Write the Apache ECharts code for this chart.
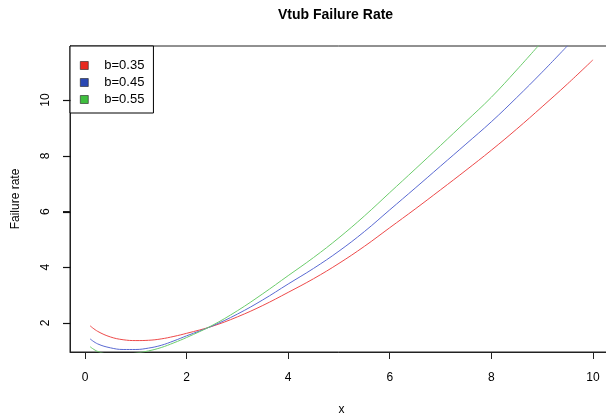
<!DOCTYPE html>
<html>
<head>
<meta charset="utf-8">
<script src="https://cdn.jsdelivr.net/npm/echarts@6/dist/echarts.min.js"></script>
<style>html,body{margin:0;padding:0;background:#fff;}#c{width:606px;height:417px;}</style>
</head>
<body>
<div id="c"></div>
<script>
// Data
const xs     = [0.1, 0.25, 0.5, 0.75, 1.0, 1.25, 1.5, 1.75, 2.0, 2.5, 3.0, 3.5, 4.0, 4.5, 5.0, 5.5, 6.0, 6.5, 7.0, 7.5, 8.0, 8.5, 9.0, 9.5, 10.0];
const b035   = [1.90, 1.70, 1.50, 1.40, 1.37, 1.38, 1.43, 1.52, 1.63, 1.88, 2.22, 2.63, 3.10, 3.59, 4.14, 4.75, 5.42, 6.09, 6.78, 7.48, 8.20, 8.96, 9.76, 10.58, 11.44];
const b045   = [1.43, 1.25, 1.11, 1.05, 1.05, 1.10, 1.20, 1.36, 1.54, 1.89, 2.32, 2.83, 3.40, 3.96, 4.58, 5.28, 6.06, 6.84, 7.63, 8.42, 9.22, 10.09, 11.00, 11.95, null];
const b055   = [1.15, 0.98, 0.88, 0.87, 0.92, 1.00, 1.12, 1.29, 1.48, 1.91, 2.44, 3.05, 3.70, 4.35, 5.06, 5.84, 6.68, 7.52, 8.37, 9.23, 10.10, 11.08, 12.10, null, null];
const seriesNames = ['b=0.35', 'b=0.45', 'b=0.55'];
const xTicks = [0, 2, 4, 6, 8, 10];
const yTicks = [2, 4, 6, 8, 10];

const pairs = ys => xs.map((x, i) => [x, ys[i]]);
const lineColors = ['#ee4a4a', '#5a6ad2', '#6ccc6c'];
const keyColors = ['#e82a20', '#2a48b4', '#3fbf3f'];
const font = 'Liberation Sans, Arial, sans-serif';
const X_MIN = -0.296, X_MAX = 10.396, Y_MIN = 0.96, Y_MAX = 11.94;

const chart = echarts.init(document.getElementById('c'), null, {renderer: 'canvas'});
chart.setOption({
  animation: false,
  backgroundColor: '#fff',
  title: {
    text: 'Vtub Failure Rate',
    left: 273, top: 3,
    textStyle: {fontFamily: font, fontSize: 14, fontWeight: 'bold', color: '#000'}
  },
  legend: {
    orient: 'vertical',
    left: 70, top: 46,
    padding: [13, 9, 7, 10],
    itemWidth: 8, itemHeight: 8, itemGap: 4,
    icon: 'rect',
    backgroundColor: '#fff',
    borderColor: '#000', borderWidth: 1,
    textStyle: {fontFamily: font, fontSize: 13, color: '#000', lineHeight: 13, padding: [0, 0, 0, 11]},
    data: seriesNames.map((n, i) => ({name: n, itemStyle: {color: keyColors[i], borderColor: '#222', borderWidth: 0.6}})),
    z: 10
  },
  grid: {
    show: true, left: 70, top: 46, width: 543, height: 306,
    borderColor: '#222', borderWidth: 1,
    outerBoundsMode: 'none'
  },
  xAxis: {
    type: 'value', min: X_MIN, max: X_MAX,
    name: 'x', nameLocation: 'middle', nameGap: 52,
    nameTextStyle: {fontFamily: font, fontSize: 12, color: '#000'},
    axisLine: {show: true, onZero: false, lineStyle: {color: '#222', width: 1}},
    splitLine: {show: false},
    axisTick: {show: true, length: 7, customValues: xTicks, lineStyle: {color: '#222', width: 1}},
    axisLabel: {customValues: xTicks, margin: 20, fontFamily: font, fontSize: 12, color: '#000'}
  },
  yAxis: {
    type: 'value', min: Y_MIN, max: Y_MAX, position: 'left',
    name: 'Failure rate', nameLocation: 'middle', nameGap: 48,
    nameTextStyle: {fontFamily: font, fontSize: 12, color: '#000'},
    axisLine: {show: true, onZero: false, lineStyle: {color: '#222', width: 1}},
    splitLine: {show: false},
    axisTick: {show: true, length: 7, customValues: yTicks, lineStyle: {color: '#222', width: 1}},
    axisLabel: {customValues: yTicks, rotate: 90, margin: 18, fontFamily: font, fontSize: 12, color: '#000'}
  },
  series: [b035, b045, b055].map((ys, i) => ({
    name: seriesNames[i],
    type: 'line',
    data: pairs(ys),
    smooth: 0.4,
    showSymbol: false,
    clip: true,
    color: lineColors[i],
    lineStyle: {width: 1, color: lineColors[i]}
  }))
});

// Y-axis tick marks placed through the library's own scale, on their own top layer
const leftEdge = Math.round(chart.convertToPixel({xAxisIndex: 0}, X_MIN));
chart.setOption({
  graphic: {
    elements: yTicks.map(v => {
      const py = Math.round(chart.convertToPixel({yAxisIndex: 0}, v)) + 0.5;
      return {
        type: 'line', zlevel: 5, z: 100, silent: true,
        shape: {x1: leftEdge - 7, y1: py, x2: leftEdge + 0.5, y2: py},
        style: {stroke: '#111', lineWidth: 1.2}
      };
    })
  }
});
</script>
</body>
</html>
